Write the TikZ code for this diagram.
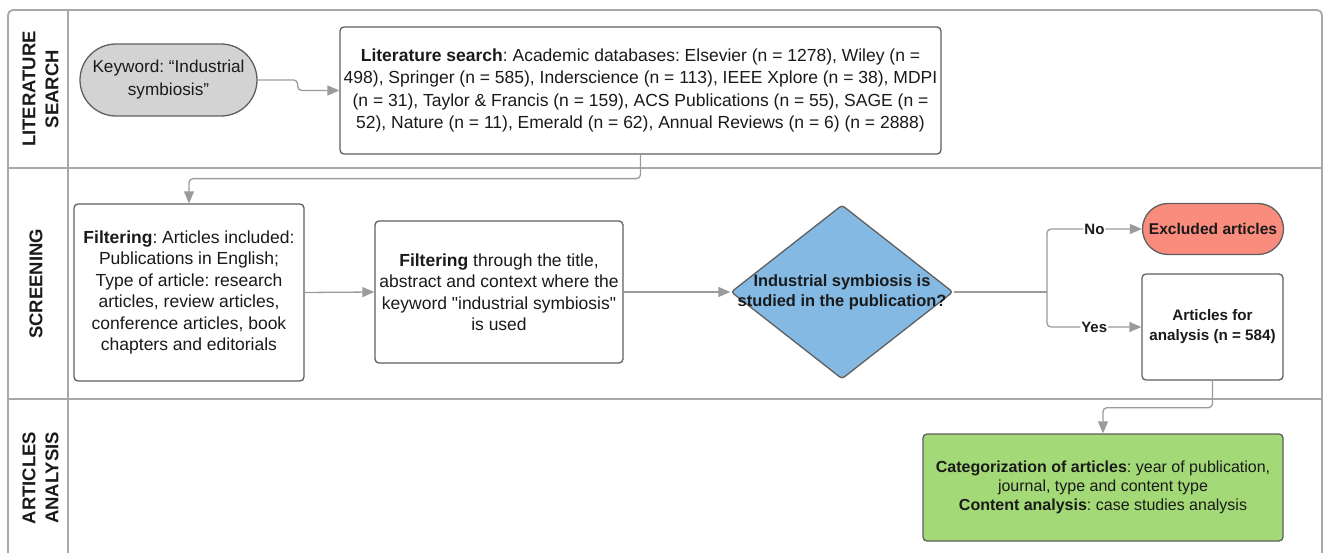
\documentclass[tikz,border=0pt]{standalone}
\usepackage{fontspec}
\setmainfont{Liberation Sans}[Ligatures=TeXOff]
\usetikzlibrary{arrows.meta,shapes.geometric,shapes.misc}
\definecolor{lineg}{HTML}{9B9B9B}
\definecolor{frameg}{HTML}{A8A8A8}
\definecolor{bord}{HTML}{5F5F5F}
\definecolor{kwfill}{HTML}{D3D3D3}
\definecolor{diafill}{HTML}{83B9E3}
\definecolor{exfill}{HTML}{FA8C7E}
\definecolor{grfill}{HTML}{A3D977}
\definecolor{txt}{HTML}{1A1A1A}
\tikzset{
  frame/.style={draw=frameg, line width=1.8pt},
  boxbase/.style={draw=bord, line width=1.3pt, inner sep=0pt, align=center, text=txt,
     font=\frenchspacing\fontsize{17.5}{21.5}\selectfont},
  recbox/.style={boxbase, rectangle, rounded corners=4pt},
  pill/.style={boxbase, rounded rectangle, rounded rectangle arc length=180},
  conn/.style={draw=lineg, line width=1.3pt, rounded corners=4pt,
     -{Triangle[length=12pt,width=10pt,fill=lineg]}},
  plain/.style={draw=lineg, line width=1.3pt},
  lbl/.style={fill=white, inner sep=1pt, text=txt, font=\fontsize{15}{18}\selectfont\bfseries},
  lane/.style={rotate=90, align=center, text=txt, font=\fontsize{18.5}{23}\selectfont\bfseries}
}
\begin{document}
\begin{tikzpicture}[x=1pt,y=-1pt]
\useasboundingbox (0,0) rectangle (1323,553);
\clip (0,0) rectangle (1323,553);
% swimlane frame
\draw[frame, rounded corners=5pt] (8,10) rectangle (1322,580);
\draw[frame] (68,10) -- (68,580);
\draw[frame] (8,168) -- (1322,168);
\draw[frame] (8,399) -- (1322,399);
\node[lane] (l1) at (40.5,89) {LITERATURE\\SEARCH};
\node[lane] (l2) at (36,284) {SCREENING};
\node[lane] (l3) at (40.5,478) {ARTICLES\\ANALYSIS};
% nodes
\node[pill, fill=kwfill, minimum width=177pt, minimum height=72pt,
  font=\frenchspacing\fontsize{17.2}{23}\selectfont] (kw) at (168.5,80)
  {Keyword: “Industrial\\symbiosis”};
\node[recbox, fill=white, minimum width=601pt, minimum height=127pt,
  font=\frenchspacing\fontsize{17.5}{22.5}\selectfont] (lit) at (640.5,90.5)
  {\textbf{Literature search}: Academic databases: Elsevier (n = 1278), Wiley (n =\\
   498), Springer (n = 585), Inderscience (n = 113), IEEE Xplore (n = 38), MDPI\\
   (n = 31), Taylor \& Francis (n = 159), ACS Publications (n = 55), SAGE (n =\\
   52), Nature (n = 11), Emerald (n = 62), Annual Reviews (n = 6) (n = 2888)};
\node[recbox, fill=white, minimum width=230pt, minimum height=177pt] (f1) at (189,292.5)
  {\textbf{Filtering}: Articles included:\\Publications in English;\\Type of article: research\\articles, review articles,\\conference articles, book\\chapters and editorials};
\node[recbox, fill=white, minimum width=248pt, minimum height=142pt] (f2) at (499,292)
  {\textbf{Filtering} through the title,\\abstract and context where the\\keyword "industrial symbiosis"\\is used};
\node[diamond, draw=bord, line width=1.3pt, fill=diafill, minimum width=222pt, minimum height=174pt,
  inner sep=0pt, rounded corners=3pt] (dia) at (842,292) {};
\node[align=center, text=txt, font=\fontsize{16.4}{20}\selectfont\bfseries] (diat) at (dia.center)
  {Industrial symbiosis is\\studied in the publication?};
\node[pill, fill=exfill, minimum width=141pt, minimum height=51pt,
  font=\fontsize{15.6}{20}\selectfont\bfseries] (excl) at (1213,229)
  {Excluded articles};
\node[recbox, fill=white, minimum width=141pt, minimum height=106pt,
  font=\fontsize{15.2}{20}\selectfont\bfseries] (art) at (1212.5,327)
  {Articles for\\analysis (n = 584)};
\node[recbox, fill=grfill, minimum width=360pt, minimum height=107pt,
  font=\frenchspacing\fontsize{16}{19}\selectfont] (cat) at (1103,487.5)
  {\textbf{Categorization of articles}: year of publication,\\journal, type and content type\\\textbf{Content analysis}: case studies analysis};
% connectors
\draw[conn] (kw.east) -- ++(40,0) |- (lit.west);
\draw[conn] (lit.south) -- ++(0,24) -| (f1.north);
\draw[conn] (f1.east) -- (f2.west);
\draw[conn] (f2.east) -- (dia.west);
\coordinate (br) at (1047,292);
\draw[plain] (dia.east) -- (br);
\draw[conn] (br) |- node[lbl, pos=0.75] {No} (excl.west);
\draw[conn] (br) |- node[lbl, pos=0.75] {Yes} (art.west);
\draw[conn] (art.south) -- ++(0,27) -| (cat.north);
\end{tikzpicture}
\end{document}
